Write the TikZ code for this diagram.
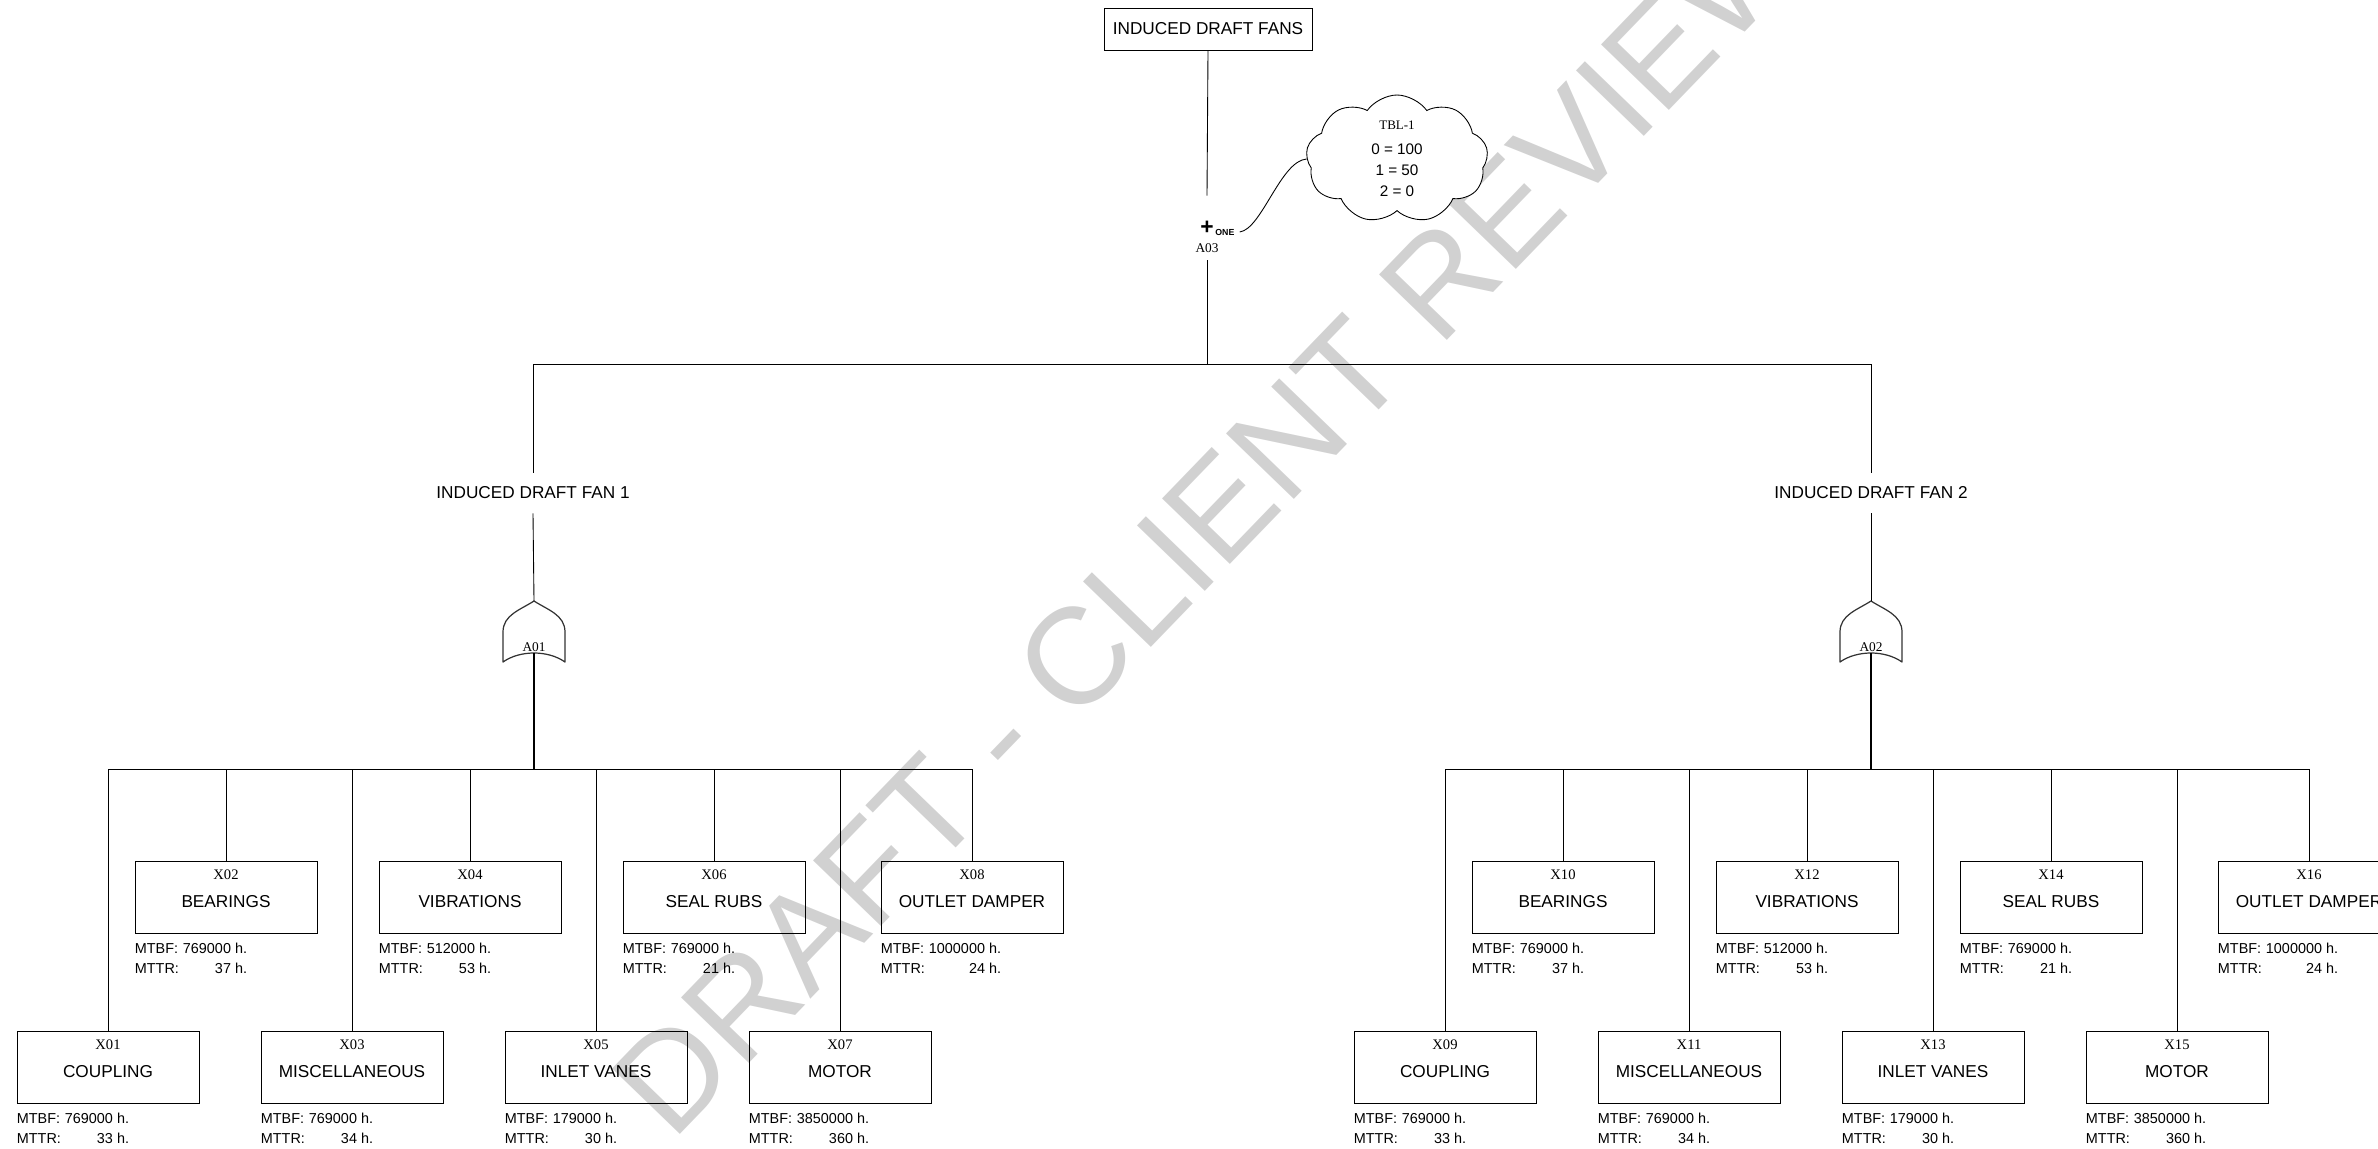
\documentclass[tikz,border=0pt]{standalone}
\usepackage{fontspec}
\setmainfont{Liberation Sans}
\newfontfamily\idfont{Liberation Serif}
\usetikzlibrary{shapes.symbols}
\newcommand{\relinfo}[2]{\begin{tabular}{@{}l@{ }r@{}}MTBF: & #1 h.\\ MTTR: & #2 h.\end{tabular}}

\begin{document}
\begin{tikzpicture}
	[x=0.02cm, y=-0.02cm,
	every node/.style={inner sep=0pt},
	line/.style={line width=0.5pt},
	box/.style={draw, line width=0.5pt, font=\fontsize{9.8}{12}\selectfont},
	leaf/.style={box, minimum width=3.64cm, minimum height=1.44cm, text height=12.5pt, text depth=0pt},
	xid/.style={anchor=north, yshift=-0.18cm, font=\idfont\fontsize{8.3}{10}\selectfont},
	info/.style={anchor=north west, yshift=-0.12cm, font=\fontsize{8.2}{11.4}\selectfont},
	gate/.style={line width=0.7pt, draw=black!80, line join=round},
	fan/.style={minimum height=0.8cm, font=\fontsize{9.8}{12}\selectfont},
	watermark/.style={text=black!18, font=\fontsize{78}{80}\selectfont}
	]
	\useasboundingbox (0,0) rectangle (2378,1149);

	% watermark
	\node[watermark, rotate=46] (wm) at (1210,518) {DRAFT - CLIENT REVIEW};

	% top event and A03
	\node[box, minimum width=4.16cm, minimum height=0.84cm] (top) at (1208,29) {INDUCED DRAFT FANS};
	\node[minimum width=0.6cm, minimum height=1.28cm] (a03) at (1207,228) {};
	\node[font=\bfseries\fontsize{13}{13}\selectfont] (plus) at (1207,228) {+};
	\node[anchor=west, inner xsep=0.1cm, font=\bfseries\fontsize{5}{5}\selectfont] (one) at (1210,232) {ONE};
	\node[font=\idfont\fontsize{7.6}{9}\selectfont] (a03t) at (1207,248) {A03};
	\node[draw, cloud, cloud puffs=9, cloud puff arc=110, cloud ignores aspect, minimum width=3.64cm, minimum height=2.56cm,
		fill=white, line width=0.5pt, align=center, font=\fontsize{8.7}{12}\selectfont] (tbl) at (1397,159)
		{{\idfont\fontsize{7.4}{8}\selectfont TBL-1}\\[2pt] 0 = 100\\ 1 = 50\\ 2 = 0};
	\draw[line] (one.east) .. controls +(22,-3) and +(-26,2) .. (tbl.west);

	\draw[line] (top.south) -- (a03.north);
	\coordinate (bus0) at (1207,364);
	\node[fan] (fan1) at (533,493) {INDUCED DRAFT FAN 1};
	\node[fan] (fan2) at (1871,493) {INDUCED DRAFT FAN 2};
	\draw[line] (a03.south) -- (bus0);
	\draw[line] (fan1.north) -- (fan1.north |- bus0) -- (fan2.north |- bus0) -- (fan2.north);

	% gates
	\coordinate (a01top) at (534,601);
	\coordinate (a01bot) at (534,653);
	\coordinate (a02top) at (1871,601);
	\coordinate (a02bot) at (1871,653);
	\draw[gate] (a01top) .. controls +(14,9) and +(0,-17) .. ++(31,31) -- ++(0,30)
		.. controls +(-17,-12) and +(17,-12) .. ++(-62,0) -- ++(0,-30)
		.. controls +(0,-17) and +(-14,9) .. ++(31,-31) -- cycle;
	\draw[gate] (a02top) .. controls +(14,9) and +(0,-17) .. ++(31,31) -- ++(0,30)
		.. controls +(-17,-12) and +(17,-12) .. ++(-62,0) -- ++(0,-30)
		.. controls +(0,-17) and +(-14,9) .. ++(31,-31) -- cycle;
	\node[font=\idfont\fontsize{7.6}{9}\selectfont] (a01) at (534,647) {A01};
	\node[font=\idfont\fontsize{7.6}{9}\selectfont] (a02) at (1871,647) {A02};
	\draw[line] (fan1.south) -- (a01top);
	\draw[line] (fan2.south) -- (a02top);
	\coordinate (bus1) at (534,769);
	\coordinate (bus2) at (1871,769);
	\draw[line width=0.8pt] (a01bot) -- (bus1);
	\draw[line width=0.8pt] (a02bot) -- (bus2);

	% basic events, fan 1
	\node[leaf, label={[xid]north:X01}, label={[info]south west:\relinfo{769000}{33}}] (x01) at (108,1067) {COUPLING};
	\node[leaf, label={[xid]north:X02}, label={[info]south west:\relinfo{769000}{37}}] (x02) at (226,897) {BEARINGS};
	\node[leaf, label={[xid]north:X03}, label={[info]south west:\relinfo{769000}{34}}] (x03) at (352,1067) {MISCELLANEOUS};
	\node[leaf, label={[xid]north:X04}, label={[info]south west:\relinfo{512000}{53}}] (x04) at (470,897) {VIBRATIONS};
	\node[leaf, label={[xid]north:X05}, label={[info]south west:\relinfo{179000}{30}}] (x05) at (596,1067) {INLET VANES};
	\node[leaf, label={[xid]north:X06}, label={[info]south west:\relinfo{769000}{21}}] (x06) at (714,897) {SEAL RUBS};
	\node[leaf, label={[xid]north:X07}, label={[info]south west:\relinfo{3850000}{360}}] (x07) at (840,1067) {MOTOR};
	\node[leaf, label={[xid]north:X08}, label={[info]south west:\relinfo{1000000}{24}}] (x08) at (972,897) {OUTLET DAMPER};

	% basic events, fan 2
	\node[leaf, label={[xid]north:X09}, label={[info]south west:\relinfo{769000}{33}}] (x09) at (1445,1067) {COUPLING};
	\node[leaf, label={[xid]north:X10}, label={[info]south west:\relinfo{769000}{37}}] (x10) at (1563,897) {BEARINGS};
	\node[leaf, label={[xid]north:X11}, label={[info]south west:\relinfo{769000}{34}}] (x11) at (1689,1067) {MISCELLANEOUS};
	\node[leaf, label={[xid]north:X12}, label={[info]south west:\relinfo{512000}{53}}] (x12) at (1807,897) {VIBRATIONS};
	\node[leaf, label={[xid]north:X13}, label={[info]south west:\relinfo{179000}{30}}] (x13) at (1933,1067) {INLET VANES};
	\node[leaf, label={[xid]north:X14}, label={[info]south west:\relinfo{769000}{21}}] (x14) at (2051,897) {SEAL RUBS};
	\node[leaf, label={[xid]north:X15}, label={[info]south west:\relinfo{3850000}{360}}] (x15) at (2177,1067) {MOTOR};
	\node[leaf, label={[xid]north:X16}, label={[info]south west:\relinfo{1000000}{24}}] (x16) at (2309,897) {OUTLET DAMPER};

	% connections to the buses
	\draw[line] (x01.north) -- (x01.north |- bus1) -- (x08.north |- bus1) -- (x08.north);
	\draw[line] (x02.north) -- (x02.north |- bus1) (x03.north) -- (x03.north |- bus1)
		(x04.north) -- (x04.north |- bus1) (x05.north) -- (x05.north |- bus1)
		(x06.north) -- (x06.north |- bus1) (x07.north) -- (x07.north |- bus1);
	\draw[line] (x09.north) -- (x09.north |- bus2) -- (x16.north |- bus2) -- (x16.north);
	\draw[line] (x10.north) -- (x10.north |- bus2) (x11.north) -- (x11.north |- bus2)
		(x12.north) -- (x12.north |- bus2) (x13.north) -- (x13.north |- bus2)
		(x14.north) -- (x14.north |- bus2) (x15.north) -- (x15.north |- bus2);
\end{tikzpicture}
\end{document}
